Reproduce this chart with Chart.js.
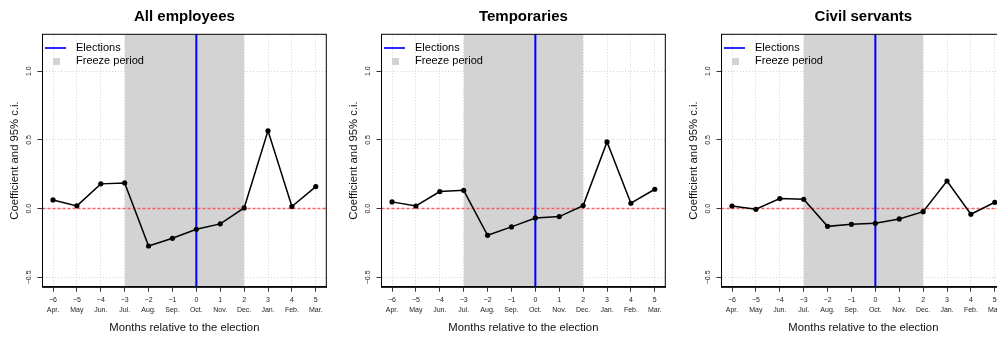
<!DOCTYPE html>
<html>
<head>
<meta charset="utf-8">
<script src="https://cdn.jsdelivr.net/npm/chart.js@4/dist/chart.umd.min.js"></script>
<style>
  html, body { margin: 0; padding: 0; background: #fff; }
  body { width: 997px; height: 337px; overflow: hidden; position: relative; }
  canvas { position: absolute; top: 0; }
</style>
</head>
<body>
<canvas id="panel1" width="340" height="337" style="left:0px"></canvas>
<canvas id="panel2" width="340" height="337" style="left:339px"></canvas>
<canvas id="panel3" width="340" height="337" style="left:679px"></canvas>
<script>
// Months relative to the election, and the calendar month of each
const relMonths = [-6, -5, -4, -3, -2, -1, 0, 1, 2, 3, 4, 5];
const monthNames = ['Apr.', 'May', 'Jun.', 'Jul.', 'Aug.', 'Sep.', 'Oct.', 'Nov.', 'Dec.', 'Jan.', 'Feb.', 'Mar.'];

// Estimated coefficients per month
const allEmployees  = [0.063, 0.020, 0.180, 0.187, -0.272, -0.216, -0.150, -0.111, 0.005, 0.566, 0.015, 0.160];
const temporaries   = [0.049, 0.019, 0.124, 0.133, -0.194, -0.133, -0.068, -0.058, 0.022, 0.485, 0.039, 0.141];
const civilServants = [0.019, -0.005, 0.073, 0.068, -0.129, -0.114, -0.107, -0.075, -0.022, 0.201, -0.041, 0.046];

const panelTitles = ['All employees', 'Temporaries', 'Civil servants'];

const yTickValues = [-0.5, 0, 0.5, 1.0];
const yTickLabels = ['\u22120.5', '0.0', '0.5', '1.0'];

// Freeze period and election month
const freezeStart = -3;
const freezeEnd = 2;
const electionMonth = 0;

// Axis ranges
const X_MIN = -6.44, X_MAX = 5.44;
const Y_MIN = -0.568, Y_MAX = 1.268;

const FONT = '"Liberation Sans", Arial, Helvetica, sans-serif';

function relLabel(v) {
  return v < 0 ? '\u2212' + Math.abs(v) : String(v);
}

// Small legend glyphs: a blue line and a grey square
function makeGlyph(kind) {
  const c = document.createElement('canvas');
  c.width = 25;
  c.height = kind === 'line' ? 2 : 7;
  const g = c.getContext('2d');
  if (kind === 'line') {
    g.fillStyle = '#2a2aff';
    g.fillRect(0, 0, 21, 2);
  } else {
    g.fillStyle = '#d3d3d3';
    g.fillRect(8, 0, 7, 7);
  }
  return c;
}
const lineGlyph = makeGlyph('line');
const squareGlyph = makeGlyph('square');

// Black frame around the plotting region
const plotFrame = {
  id: 'plotFrame',
  afterDraw(chart) {
    const { ctx, chartArea: a } = chart;
    ctx.save();
    ctx.strokeStyle = '#000';
    ctx.lineWidth = 1;
    ctx.strokeRect(a.left, a.top, a.right - a.left, a.bottom - a.top);
    ctx.restore();
  }
};

function makePanel(id, title, values) {
  const points = relMonths.map((m, i) => ({ x: m, y: values[i] }));
  return new Chart(document.getElementById(id), {
    type: 'line',
    data: {
      datasets: [
        {
          label: title,
          data: points,
          borderColor: '#000',
          backgroundColor: '#000',
          borderWidth: 1.5,
          pointRadius: 2.6,
          pointBorderWidth: 0,
          pointBackgroundColor: '#000',
          tension: 0,
          order: 0
        },
        {
          label: 'Elections',
          data: [{ x: electionMonth, y: Y_MIN }, { x: electionMonth, y: Y_MAX }],
          borderColor: '#0000ff',
          borderWidth: 2,
          pointRadius: 0,
          order: 1
        },
        {
          label: 'zero',
          data: [{ x: X_MIN, y: 0 }, { x: X_MAX, y: 0 }],
          borderColor: 'rgba(255,70,70,0.85)',
          borderWidth: 1.5,
          borderDash: [3, 2],
          pointRadius: 0,
          order: 2
        },
        {
          label: 'Freeze period',
          data: [{ x: freezeStart, y: Y_MAX }, { x: freezeEnd, y: Y_MAX }],
          borderWidth: 0,
          borderColor: 'rgba(0,0,0,0)',
          backgroundColor: '#d3d3d3',
          fill: 'start',
          pointRadius: 0,
          order: 3
        }
      ]
    },
    options: {
      responsive: false,
      animation: false,
      events: [],
      layout: { padding: { left: 0, right: 13.7, top: 0, bottom: 0 } },
      scales: {
        x: {
          type: 'linear',
          min: X_MIN,
          max: X_MAX,
          afterBuildTicks: s => { s.ticks = relMonths.map(v => ({ value: v })); },
          afterFit: s => { s.height = 50.3; },
          ticks: {
            autoSkip: false,
            maxRotation: 0,
            padding: 3,
            color: '#222',
            font: { family: FONT, size: 7, lineHeight: '10px' },
            callback: (v, i) => [relLabel(relMonths[i]), monthNames[i]]
          },
          grid: {
            color: '#d3d3d3',
            lineWidth: 1,
            tickLength: 5,
            tickColor: '#333',
            tickWidth: 1,
            tickBorderDash: []
          },
          border: { display: true, color: '#333', width: 2, dash: [1, 2], z: 1 },
          title: {
            display: true,
            text: 'Months relative to the election',
            color: '#111',
            font: { family: FONT, size: 11.3 },
            padding: { top: 0, bottom: 2.2 }
          }
        },
        y: {
          type: 'linear',
          min: Y_MIN,
          max: Y_MAX,
          afterBuildTicks: s => { s.ticks = yTickValues.map(v => ({ value: v })); },
          afterFit: s => { s.width = 42.5; },
          ticks: {
            minRotation: 90,
            maxRotation: 90,
            crossAlign: 'center',
            padding: 1.1,
            color: '#222',
            font: { family: FONT, size: 7 },
            callback: (v, i) => yTickLabels[i]
          },
          grid: {
            color: '#d3d3d3',
            lineWidth: 1,
            tickLength: 5,
            tickColor: '#333',
            tickWidth: 1,
            tickBorderDash: []
          },
          border: { display: true, color: '#000', width: 1, dash: [1, 2] },
          title: {
            display: true,
            text: 'Coefficient and 95% c.i.',
            color: '#111',
            font: { family: FONT, size: 11.3 },
            padding: { top: 8.2, bottom: 0 }
          }
        }
      },
      plugins: {
        filler: { drawTime: 'beforeDraw' },
        tooltip: { enabled: false },
        title: {
          display: true,
          text: title,
          fullSize: false,
          color: '#000',
          font: { family: FONT, size: 15, weight: 'bold' },
          padding: { top: 8.3, bottom: 8 }
        },
        legend: {
          position: 'chartArea',
          align: 'start',
          // a vertical legend box starts at the canvas top, so the empty title spacer
          // pushes the entries down below the plot's upper edge
          title: { display: true, text: '', padding: { top: 40.5, bottom: 0 }, font: { size: 1, lineHeight: 0 } },
          labels: {
            usePointStyle: true,
            pointStyleWidth: 26,
            padding: 2,
            color: '#000',
            font: { family: FONT, size: 11 },
            generateLabels: () => [
              { text: 'Elections', pointStyle: lineGlyph, fontColor: '#000', fillStyle: '#0000ff', strokeStyle: 'rgba(0,0,0,0)', lineWidth: 0, hidden: false, datasetIndex: 1 },
              { text: 'Freeze period', pointStyle: squareGlyph, fontColor: '#000', fillStyle: '#d3d3d3', strokeStyle: 'rgba(0,0,0,0)', lineWidth: 0, hidden: false, datasetIndex: 3 }
            ]
          }
        }
      }
    },
    plugins: [plotFrame]
  });
}

makePanel('panel1', panelTitles[0], allEmployees);
makePanel('panel2', panelTitles[1], temporaries);
makePanel('panel3', panelTitles[2], civilServants);
</script>
</body>
</html>
